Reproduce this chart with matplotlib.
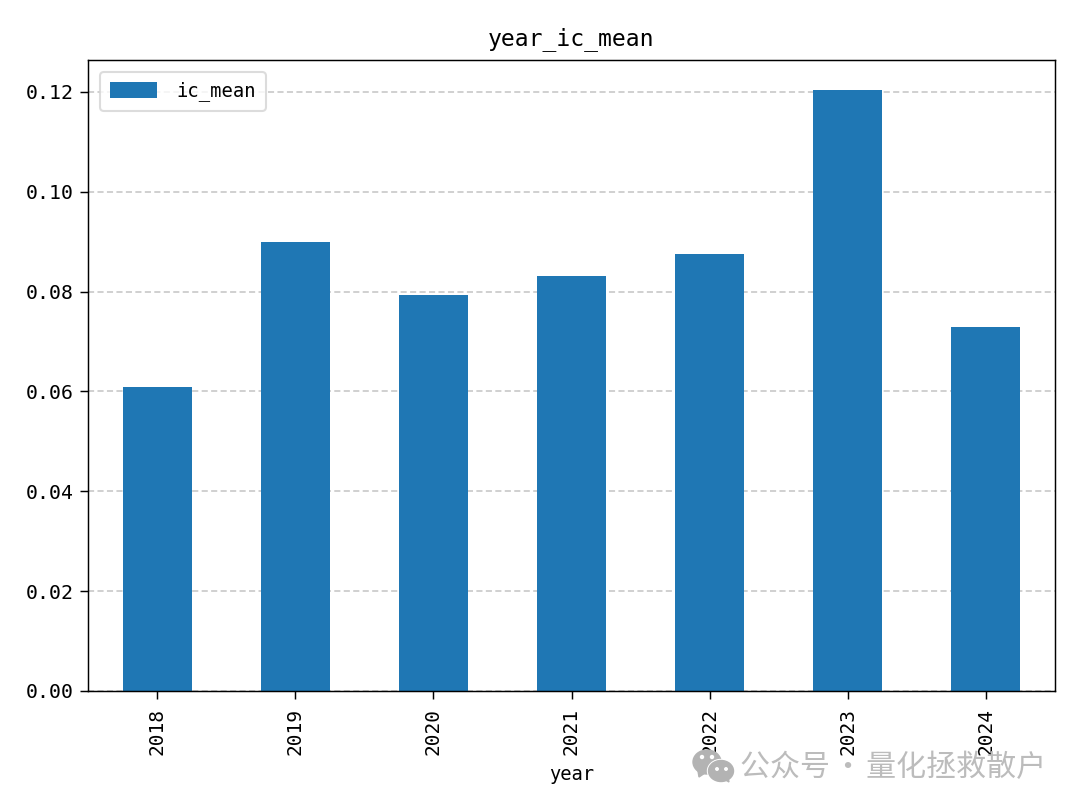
import matplotlib
matplotlib.use('Agg')
import matplotlib.pyplot as plt
from matplotlib.patches import Ellipse, Polygon

years = ['2018', '2019', '2020', '2021', '2022', '2023', '2024']
ic_mean = [0.0608, 0.090, 0.0793, 0.0832, 0.0875, 0.1203, 0.073]
y_ticks = [0, .02, .04, .06, .08, .10, .12]
y_labels = ['0.00', '0.02', '0.04', '0.06', '0.08', '0.10', '0.12']
title = 'year_ic_mean'
watermark = '公众号\u200a·\u200a量化拯救散户'

plt.rcParams['font.family'] = ['Noto Sans CJK SC', 'DejaVu Sans']
fam = ['DejaVu Sans Mono', 'Noto Sans CJK SC']

fig = plt.figure(figsize=(10.8, 8.1), dpi=100)
ax = fig.add_axes([88/1080, 1-691/810, (1055-88)/1080, (691-60)/810])
ax.bar(range(len(years)), ic_mean, width=0.5, color='#1f77b4', label='ic_mean', zorder=2)
ax.set_xlim(-0.5, 6.5)
ax.set_ylim(0, 0.1264)
ax.yaxis.grid(True, ls=(0, (4, 2.2)), color='#c4c4c4', lw=1.1, zorder=1)
ax.set_axisbelow(True)
ax.set_xticks(range(len(years)))
ax.set_xticklabels(years, rotation=90, fontsize=14, family=fam)
ax.set_yticks(y_ticks)
ax.set_yticklabels(y_labels, fontsize=14.3, family=fam)
ax.tick_params(length=5.6, width=1.05)
ax.tick_params(axis='x', pad=6.5)
ax.tick_params(axis='y', pad=5)
for s in ax.spines.values():
    s.set_linewidth(1.05)
ax.set_title(title, fontsize=16.6, family=fam, pad=11)
ax.set_xlabel('year', fontsize=13.5, family=fam, va='top')
ax.xaxis.set_label_coords(0.5, -0.117)
ax.legend(loc='upper left', prop={'family': fam, 'size': 13.6}, borderaxespad=0.64,
          handlelength=2.5, handleheight=0.85, handletextpad=1.05, borderpad=0.5,
          framealpha=0.8, edgecolor='#d4d4d4').get_frame().set_linewidth(1.5)
fig.text(1046.5/1080, 1-767/810, watermark, ha='right', va='center', fontsize=21.6, color='#bcbcbc',
         family=['Noto Sans CJK SC', 'DejaVu Sans'], zorder=5)

# watermark icon
def fx(x): return x/1080
def fy(y): return 1-y/810
icon = '#b3b3b3'
fig.add_artist(Ellipse((fx(707), fy(762)), 28/1080, 24/810, color=icon, transform=fig.transFigure))
fig.add_artist(Polygon([(fx(698), fy(771)), (fx(699), fy(777)), (fx(705), fy(773))], color=icon, transform=fig.transFigure))
fig.add_artist(Ellipse((fx(721), fy(771)), 27/1080, 23/810, color='white', transform=fig.transFigure))
fig.add_artist(Ellipse((fx(721), fy(771)), 25/1080, 21/810, color=icon, transform=fig.transFigure))
fig.add_artist(Polygon([(fx(724), fy(779)), (fx(729), fy(782)), (fx(728), fy(777))], color=icon, transform=fig.transFigure))
for ex, ey, r in [(702, 757, 3), (712, 757, 3), (717, 769, 2.5), (726, 769, 2.5)]:
    fig.add_artist(Ellipse((fx(ex), fy(ey)), r/1080, r/810, color='white', transform=fig.transFigure))
fig.savefig('out.png', dpi=100)
